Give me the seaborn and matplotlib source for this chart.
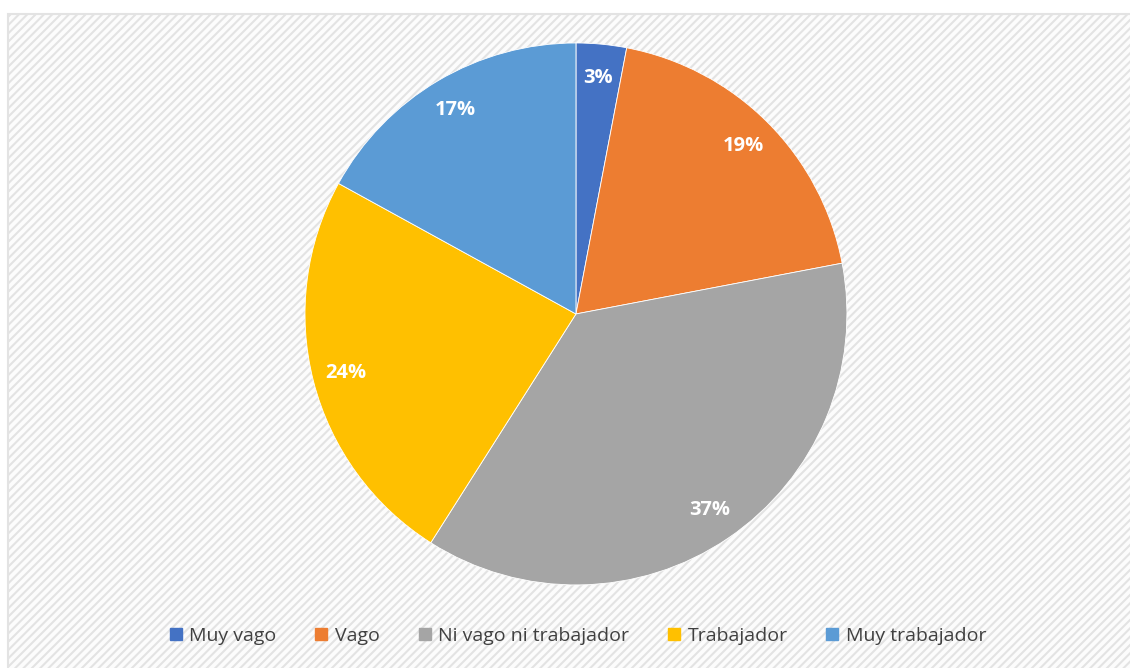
import matplotlib
matplotlib.use("Agg")
import matplotlib.pyplot as plt
from matplotlib.patches import Rectangle
from matplotlib.lines import Line2D
import seaborn as sns

categories = ["Muy vago", "Vago", "Ni vago ni trabajador", "Trabajador", "Muy trabajador"]
values = [3, 19, 37, 24, 17]
colors = ["#4472C4", "#ED7D31", "#A5A5A5", "#FFC000", "#5B9BD5"]

sns.set_style("white")
plt.rcParams["font.family"] = ["Open Sans", "DejaVu Sans"]
plt.rcParams["hatch.color"] = "#f3f3f3"
plt.rcParams["hatch.linewidth"] = 1.5

fig = plt.figure(figsize=(11.3, 6.68), dpi=100)
fig.patch.set_facecolor("white")

# background axes holding the hatched chart area
bg_ax = fig.add_axes([0, 0, 1, 1], zorder=0)
bg_ax.axis("off")
bg_ax.set_xlim(0, 1)
bg_ax.set_ylim(0, 1)
bg_ax.add_patch(Rectangle((8 / 1130, -0.01), 1.0, 1.01 - 14 / 668,
                          facecolor="#fcfcfc", edgecolor="#e3e3e3", hatch="////",
                          linewidth=1.5))

ax = fig.add_axes([0.2699, 0.1243, 0.4796, 0.8114], zorder=1)
wedges, texts, autotexts = ax.pie(
    values, colors=colors, startangle=90, counterclock=False,
    autopct=lambda p: f"{p:.0f}%", pctdistance=0.875,
    wedgeprops=dict(edgecolor="white", linewidth=0.6),
    textprops=dict(color="white", fontsize=14.5, fontweight="bold"))
ax.set_xlim(-1, 1)
ax.set_ylim(-1, 1)
ax.set_aspect("equal")
ax.axis("off")

handles = [Line2D([0], [0], marker="s", linestyle="", markersize=8,
                  markerfacecolor=c, markeredgecolor=c) for c in colors]
leg = fig.legend(handles, categories, loc="center", bbox_to_anchor=(0.51, 1 - 636 / 668),
                 ncol=5, frameon=False, fontsize=14, handletextpad=0.2,
                 handlelength=1.0, columnspacing=1.8, labelcolor="#404040")
leg.set_zorder(2)

fig.savefig("out.png", dpi=100)
